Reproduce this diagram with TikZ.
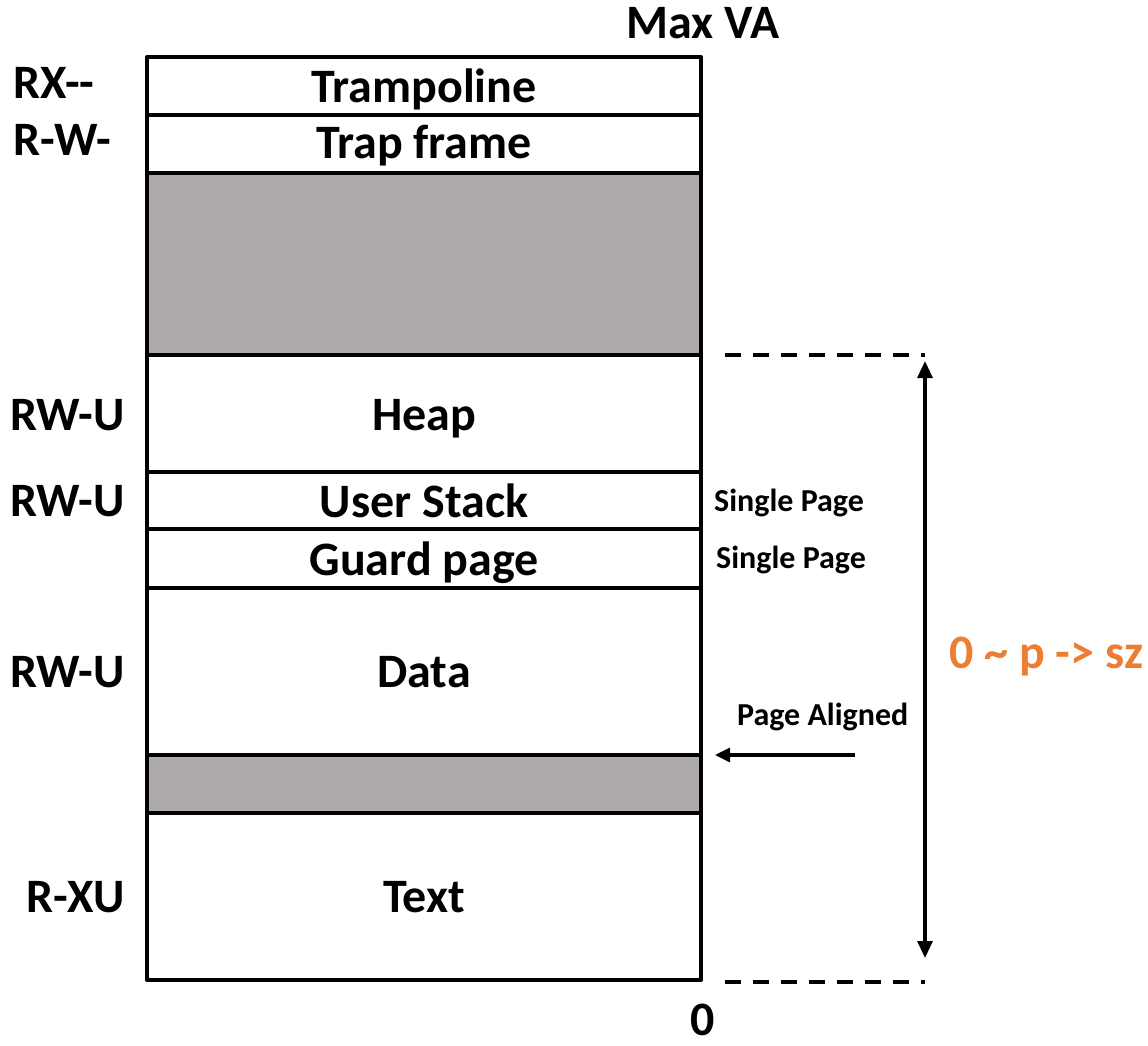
\documentclass[tikz,border=0pt]{standalone}
\usepackage{fontspec}
\setmainfont{Carlito}
\usetikzlibrary{arrows.meta}
\definecolor{freegray}{HTML}{AEAAAA}
\definecolor{szorange}{HTML}{ED7D31}
\begin{document}
\begin{tikzpicture}[x=1pt,y=-1pt,
  frame/.style={draw=black, line width=4.5pt, line join=round},
  big/.style={font=\fontsize{48}{52}\selectfont\bfseries, inner sep=0pt, anchor=base},
  small/.style={font=\fontsize{32}{36}\selectfont\bfseries, inner sep=0pt, anchor=base},
  guide/.style={line width=3.2pt, dash pattern=on 16pt off 12pt},
  dim/.style={line width=3.2pt, {Triangle[length=17pt,width=15pt]}-{Triangle[length=17pt,width=15pt]}},
  pointer/.style={line width=3.2pt, -{Triangle[length=15pt,width=14pt]}},
]
\useasboundingbox (0,0) rectangle (1148,1045);

% unmapped regions
\fill[freegray] (147,173) rectangle (701,355);
\fill[freegray] (147,755) rectangle (701,813);

% address space column and region boundaries
\draw[frame] (147,57) rectangle (701,980);
\foreach \yb in {115,173,355,472,529,588,755,813}
  \draw[frame] (147,\yb) -- (701,\yb);

% region names
\node[big] (tramp) at (424,102) {Trampoline};
\node[big] (trapf) at (424,158) {Trap frame};
\node[big] (heap)  at (424,430) {Heap};
\node[big] (stack) at (424,517) {User Stack};
\node[big] (guard) at (424,575) {Guard page};
\node[big] (data)  at (424,687) {Data};
\node[big] (text)  at (424,912) {Text};

% permissions
\node[big, anchor=base west] (pTramp) at (13,98)  {RX{-}{-}};
\node[big, anchor=base west] (pTrap)  at (13,155) {R-W-};
\node[big, anchor=base east] (pHeap)  at (125,430) {RW-U};
\node[big, anchor=base east] (pStack) at (125,516) {RW-U};
\node[big, anchor=base east] (pData)  at (125,687) {RW-U};
\node[big, anchor=base east] (pText)  at (125,912) {R-XU};

% address ends
\node[big] (maxva) at (703,38) {Max VA};
\node[big] (zero)  at (703,1035) {0};

% side notes
\node[small, anchor=base west] (sp1) at (714,511) {Single Page};
\node[small, anchor=base west] (sp2) at (716,568) {Single Page};
\node[small, anchor=base west] (pal) at (737,725) {Page Aligned};

% page-aligned pointer
\coordinate (palTail) at (855,755);
\coordinate (palHead) at (715,755);
\draw[pointer] (palTail) -- (palHead);

% size span of the user part
\coordinate (gTopL) at (725,355);
\coordinate (gTopR) at (925,355);
\coordinate (gBotL) at (725,982);
\coordinate (gBotR) at (925,982);
\draw[guide] (gTopL) -- (gTopR);
\draw[guide] (gBotL) -- (gBotR);
\draw[dim] ([yshift=-6pt]gTopR) -- ([yshift=24pt]gBotR);

\node[font=\fontsize{48}{52}\selectfont\bfseries, text=szorange, inner sep=0pt, anchor=base west] (sz) at (949,668) {0 \textasciitilde{} p -> sz};
\end{tikzpicture}
\end{document}
